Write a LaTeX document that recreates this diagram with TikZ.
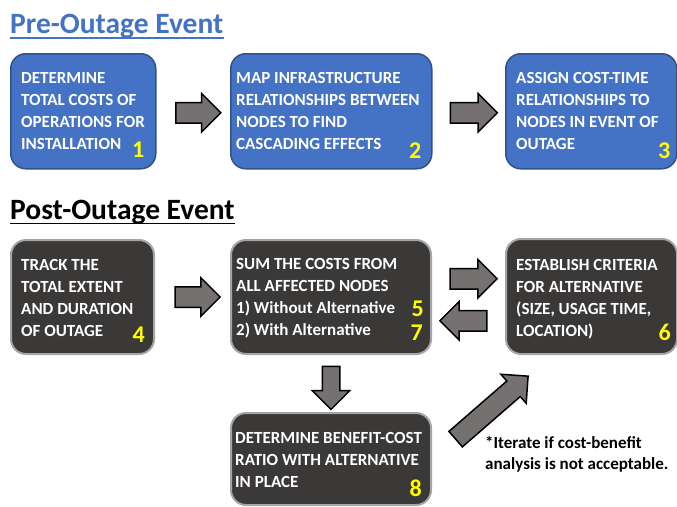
\documentclass[tikz,border=0pt]{standalone}
\usepackage{fontspec}
\setmainfont{Carlito}
\usetikzlibrary{shapes.arrows, calc}

\definecolor{preblue}{HTML}{4472C4}
\definecolor{preedge}{HTML}{2F528F}
\definecolor{postfill}{HTML}{3B3838}
\definecolor{postedge}{HTML}{A5A5A5}
\definecolor{arrowgray}{HTML}{767171}
\definecolor{numyellow}{HTML}{FFFF00}

\begin{document}
\begin{tikzpicture}[
    x=1pt, y=1pt,
    preblock/.style={rectangle, draw=preedge, line width=1.5pt, fill=preblue, rounded corners=15pt, anchor=north west, inner sep=0pt},
    postblock/.style={rectangle, draw=postedge, line width=2pt, fill=postfill, rounded corners=15pt, anchor=north west, inner sep=0pt},
    blocktext/.style={anchor=base west, align=left, inner sep=0pt, text=white, font=\bfseries\fontsize{17}{22}\selectfont},
    stepnum/.style={anchor=base east, inner sep=0pt, text=numyellow, font=\bfseries\fontsize{24}{24}\selectfont},
    blockarrow/.style={single arrow, draw=black, line width=1.5pt, fill=arrowgray, inner sep=9.5pt, single arrow head extend=9pt},
    heading/.style={anchor=base west, inner sep=0pt, font=\bfseries\fontsize{29.5}{32}\selectfont}
]
\useasboundingbox (0,0) rectangle (677,-506);

% Headings
\node [heading, text=preblue] (prehead) at (10,-33) {Pre-Outage Event};
\draw [preblue, line width=1.8pt] ([yshift=-5pt]prehead.base west) -- ([yshift=-5pt]prehead.base east);
\node [heading, text=black] (posthead) at (10,-219) {Post-Outage Event};
\draw [black, line width=1.8pt] ([yshift=-4.5pt]posthead.base west) -- ([yshift=-4.5pt]posthead.base east);

% Pre-outage blocks
\node [preblock, minimum width=145pt, minimum height=115pt] (b1) at (10,-53) {};
\node [preblock, minimum width=201pt, minimum height=115pt] (b2) at (230,-53) {};
\node [preblock, minimum width=171pt, minimum height=115pt] (b3) at (505,-53) {};

% (base = last line)
\node [blocktext] (t1) at ([shift={(11,-96)}]b1.north west) {DETERMINE\\TOTAL COSTS OF\\OPERATIONS FOR\\INSTALLATION};
\node [blocktext] (t2) at ([shift={(6,-96)}]b2.north west) {MAP INFRASTRUCTURE\\RELATIONSHIPS BETWEEN\\NODES TO FIND\\CASCADING EFFECTS};
\node [blocktext] (t3) at ([shift={(11,-96)}]b3.north west) {ASSIGN COST-TIME\\RELATIONSHIPS TO\\NODES IN EVENT OF\\OUTAGE};

\node [stepnum] (n1) at ([shift={(-12,12)}]b1.south east) {1};
\node [stepnum] (n2) at ([shift={(-11,11)}]b2.south east) {2};
\node [stepnum] (n3) at ([shift={(-7,11)}]b3.south east) {3};

% Post-outage blocks
\node [postblock, minimum width=143pt, minimum height=114pt] (b4) at (10,-239) {};
\node [postblock, minimum width=200pt, minimum height=114pt] (b5) at (230,-239) {};
\node [postblock, minimum width=171pt, minimum height=115pt] (b6) at (505,-238) {};
\node [postblock, minimum width=200pt, minimum height=92pt] (b8) at (230,-412) {};

\node [blocktext] (t4) at ([shift={(11,-97)}]b4.north west) {TRACK THE\\TOTAL EXTENT\\AND DURATION\\OF OUTAGE};
\node [blocktext] (t5) at ([shift={(6,-96)}]b5.north west) {SUM THE COSTS FROM\\ALL AFFECTED NODES\\1) Without Alternative\\2) With Alternative};
\node [blocktext] (t6) at ([shift={(11,-98)}]b6.north west) {ESTABLISH CRITERIA\\FOR ALTERNATIVE\\(SIZE, USAGE TIME,\\LOCATION)};
\node [blocktext] (t8) at ([shift={(5,-75)}]b8.north west) {DETERMINE BENEFIT-COST\\RATIO WITH ALTERNATIVE\\IN PLACE};

\node [stepnum] (n4) at ([shift={(-10,13)}]b4.south east) {4};
\node [stepnum] (n5) at ([shift={(-8,39)}]b5.south east) {5};
\node [stepnum] (n7) at ([shift={(-9,15)}]b5.south east) {7};
\node [stepnum] (n6) at ([shift={(-7,15)}]b6.south east) {6};
\node [stepnum] (n8) at ([shift={(-10,10)}]b8.south east) {8};

% Arrows
\node [blockarrow, minimum height=45pt] (a12) at ($(b1.east)!0.5!(b2.west)+(0,-1.5)$) {};
\node [blockarrow, minimum height=47pt] (a23) at ($(b2.east)!0.5!(b3.west)+(0,-1.5)$) {};
\node [blockarrow, minimum height=45pt] (a45) at ($(b4.east)!0.5!(b5.west)$) {};
\node [blockarrow, minimum height=47pt] (a56) at ($(b5.east)!0.5!(b6.west)+(0,18)$) {};
\node [blockarrow, minimum height=47pt, rotate=180] (a65) at ($(b5.east)!0.5!(b6.west)+(0,-24)$) {};
\node [blockarrow, minimum height=43pt, inner sep=8pt, single arrow head extend=10pt, rotate=270] (a58) at ($(b5.south)!0.5!(b8.north)$) {};
\node [blockarrow, minimum height=96pt, rotate=41] (a86) at (488,-411) {};

% Note
\node [anchor=base west, align=left, inner sep=0pt, font=\bfseries\fontsize{17}{21}\selectfont] (note) at (485,-469) {*Iterate if cost-benefit\\analysis is not acceptable.};
\end{tikzpicture}
\end{document}
